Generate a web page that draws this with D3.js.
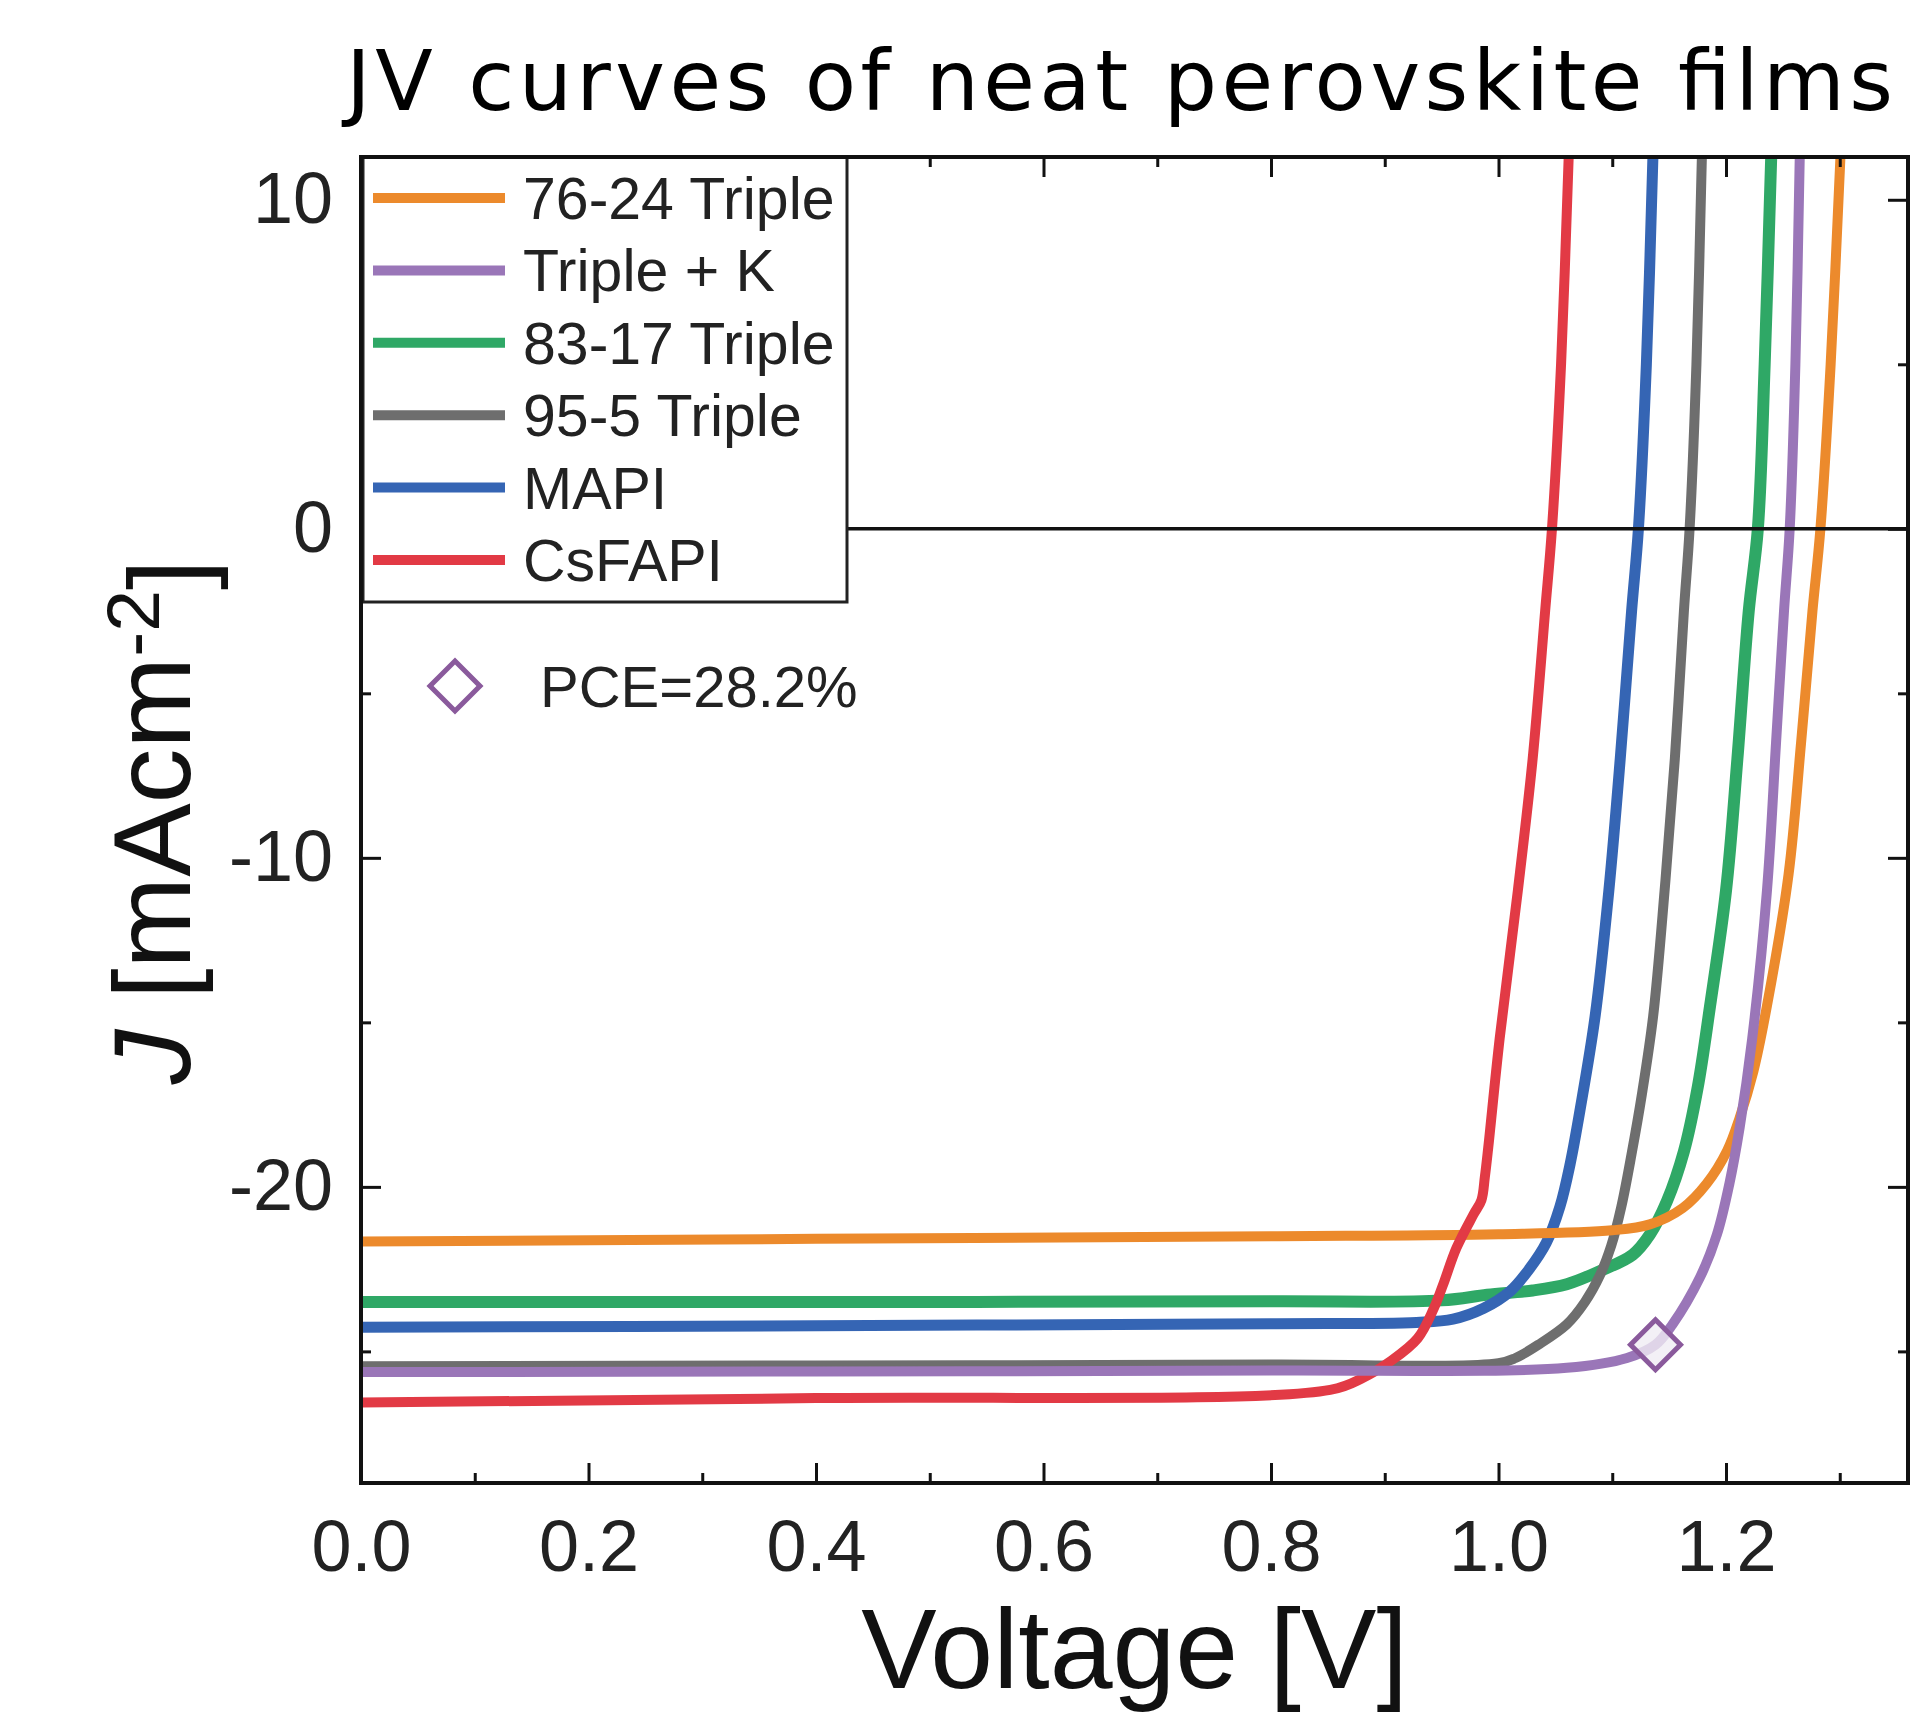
<!DOCTYPE html>
<html>
<head>
<meta charset="utf-8">
<script src="https://cdn.jsdelivr.net/npm/d3@7"></script>
<style>
  body { margin: 0; background: #fff; }
  svg { display: block; }
</style>
</head>
<body>
<svg id="chart" width="1918" height="1713"></svg>
<script>
// ---- data (V in volts, J in mA/cm^2) ----
const seriesNames = ["76-24 Triple", "Triple + K", "83-17 Triple", "95-5 Triple", "MAPI", "CsFAPI"];

const jv7624 = [[0,-21.66],[0.4,-21.58],[0.8,-21.5],[1.0,-21.44],[1.1,-21.32],[1.133,-21.14],[1.162,-20.64],[1.183,-19.9],[1.201,-18.9],[1.212,-17.9],[1.224,-16.5],[1.236,-14.5],[1.255,-10.5],[1.266,-6.5],[1.276,-2.5],[1.283,0],[1.292,5],[1.301,11.6]];
const jvTripleK = [[0,-25.63],[0.4,-25.61],[0.8,-25.58],[1.06,-25.5],[1.113,-25.2],[1.138,-24.8],[1.153,-24.18],[1.177,-22.76],[1.192,-21.45],[1.203,-19.9],[1.212,-18.2],[1.223,-15.5],[1.236,-11.0],[1.244,-6.5],[1.251,-2.5],[1.256,0],[1.261,5],[1.265,11.6]];
const jv8317 = [[0,-23.5],[0.4,-23.5],[0.8,-23.48],[0.95,-23.45],[0.99,-23.28],[1.03,-23.15],[1.06,-22.96],[1.089,-22.56],[1.118,-22.06],[1.133,-21.45],[1.148,-20.44],[1.163,-18.92],[1.175,-17.0],[1.186,-14.5],[1.2,-11.0],[1.21,-7.0],[1.22,-2.5],[1.228,0],[1.234,5],[1.24,11.6]];
const jv955 = [[0,-25.45],[0.4,-25.43],[0.8,-25.4],[1.0,-25.36],[1.015,-25.2],[1.035,-24.8],[1.06,-24.18],[1.076,-23.5],[1.089,-22.7],[1.099,-21.8],[1.108,-20.6],[1.117,-19.0],[1.126,-17.2],[1.136,-14.8],[1.146,-11.0],[1.155,-7.0],[1.163,-2.5],[1.168,0],[1.174,5],[1.179,11.6]];
const jvMAPI = [[0,-24.27],[0.4,-24.22],[0.8,-24.16],[0.928,-24.12],[0.96,-24.02],[0.987,-23.69],[1.01,-23.18],[1.027,-22.5],[1.042,-21.7],[1.054,-20.6],[1.063,-19.3],[1.072,-17.6],[1.085,-14.8],[1.097,-11.0],[1.107,-7.0],[1.117,-2.5],[1.123,0],[1.13,5],[1.136,11.6]];
const jvCsFAPI = [[0,-26.55],[0.4,-26.42],[0.852,-26.17],[0.881,-25.8],[0.905,-25.3],[0.929,-24.6],[0.943,-23.7],[0.951,-23.0],[0.963,-21.86],[0.978,-20.84],[0.985,-20.4],[0.988,-19.7],[0.991,-18.8],[1.001,-15.5],[1.017,-11.0],[1.03,-7.0],[1.041,-2.5],[1.047,0],[1.055,5],[1.062,11.6]];

const seriesData = [jv7624, jvTripleK, jv8317, jv955, jvMAPI, jvCsFAPI];
const pcePoint = [1.138, -24.8];
const pceLabel = "PCE=28.2%";

const xMajorTicks = [0, 0.2, 0.4, 0.6, 0.8, 1.0, 1.2];
const xMinorTicks = [0.1, 0.3, 0.5, 0.7, 0.9, 1.1, 1.3];
const yMajorTicks = [10, 0, -10, -20];
const yMinorTicks = [5, -5, -15, -25];

const titleText = "JV curves of neat perovskite films";

// styles
const colors = ["#ec8a2c", "#9a76b8", "#2fa866", "#6e6e6e", "#3565b4", "#e23a45"];
const widths = [10, 10, 12, 10, 11, 10];
const drawOrder = [2, 3, 4, 0, 5, 1];

const svg = d3.select("#chart");
const L = 361, R = 1908, T = 157, B = 1483;

const x = d3.scaleLinear().domain([0, 1.36]).range([L, R]);
const y = d3.scaleLinear().domain([-29, 11.3]).range([B, T]);

// title
svg.append("text")
  .attr("x", 346).attr("y", 110)
  .attr("textLength", 1547).attr("lengthAdjust", "spacing")
  .style("font-family", "'DejaVu Sans', sans-serif")
  .style("font-size", "84px")
  .attr("fill", "#000")
  .text(titleText);

svg.append("clipPath").attr("id", "plotclip")
  .append("rect").attr("x", L).attr("y", T).attr("width", R - L).attr("height", B - T);

// curves
const line = d3.line().x(d => x(d[0])).y(d => y(d[1])).curve(d3.curveCatmullRom.alpha(0.5));
const curves = svg.append("g").attr("clip-path", "url(#plotclip)");
drawOrder.forEach(i => {
  curves.append("path")
    .attr("d", line(seriesData[i]))
    .attr("fill", "none")
    .attr("stroke", colors[i])
    .attr("stroke-width", widths[i])
    .attr("stroke-linejoin", "round");
});

// zero line
svg.append("line")
  .attr("x1", x(0)).attr("x2", R)
  .attr("y1", y(0)).attr("y2", y(0))
  .attr("stroke", "#111").attr("stroke-width", 3.5);

// PCE marker on curve
const diamond = d3.symbol().type(d3.symbolSquare).size(1250);
svg.append("path")
  .attr("d", diamond())
  .attr("transform", `translate(${x(pcePoint[0])},${y(pcePoint[1])}) rotate(45)`)
  .attr("fill", "rgba(240,236,244,0.8)")
  .attr("stroke", "#8a5a9c").attr("stroke-width", 5);

// axes
const fontAx = "'Liberation Sans', Arial, sans-serif";
function styleAxis(g) {
  g.select(".domain").remove();
  g.selectAll(".tick line").attr("stroke", "#111").attr("stroke-width", 3);
  g.selectAll(".tick text").attr("fill", "#222").style("font-family", fontAx).style("font-size", "72px");
}
svg.append("g").attr("transform", `translate(0,${B})`)
  .call(d3.axisBottom(x).tickValues(xMajorTicks).tickSize(-20).tickPadding(37).tickFormat(d3.format(".1f")))
  .call(styleAxis);
svg.append("g").attr("transform", `translate(0,${B})`)
  .call(d3.axisBottom(x).tickValues(xMinorTicks).tickSize(-10).tickFormat(""))
  .call(styleAxis);
svg.append("g").attr("transform", `translate(0,${T})`)
  .call(d3.axisTop(x).tickValues(xMajorTicks).tickSize(-20).tickFormat(""))
  .call(styleAxis);
svg.append("g").attr("transform", `translate(0,${T})`)
  .call(d3.axisTop(x).tickValues(xMinorTicks).tickSize(-10).tickFormat(""))
  .call(styleAxis);
svg.append("g").attr("transform", `translate(${L},0)`)
  .call(d3.axisLeft(y).tickValues(yMajorTicks).tickSize(-20).tickPadding(28).tickFormat(d => String(d)))
  .call(styleAxis);
svg.append("g").attr("transform", `translate(${L},0)`)
  .call(d3.axisLeft(y).tickValues(yMinorTicks).tickSize(-10).tickFormat(""))
  .call(styleAxis);
svg.append("g").attr("transform", `translate(${R},0)`)
  .call(d3.axisRight(y).tickValues(yMajorTicks).tickSize(-20).tickFormat(""))
  .call(styleAxis);
svg.append("g").attr("transform", `translate(${R},0)`)
  .call(d3.axisRight(y).tickValues(yMinorTicks).tickSize(-10).tickFormat(""))
  .call(styleAxis);

// legend
const leg = svg.append("g");
leg.append("rect")
  .attr("x", 363).attr("y", T).attr("width", 484).attr("height", 445)
  .attr("fill", "#fff").attr("stroke", "#222").attr("stroke-width", 3);
seriesNames.forEach((name, i) => {
  const cy = 198 + i * 72.4;
  leg.append("line")
    .attr("x1", 373).attr("x2", 505).attr("y1", cy).attr("y2", cy)
    .attr("stroke", colors[i]).attr("stroke-width", 10);
  leg.append("text")
    .attr("x", 523).attr("y", cy + 21)
    .attr("fill", "#222")
    .style("font-family", fontAx).style("font-size", "59px")
    .text(name);
});

// frame
svg.append("rect")
  .attr("x", L).attr("y", T).attr("width", R - L).attr("height", B - T)
  .attr("fill", "none").attr("stroke", "#111").attr("stroke-width", 4);

// PCE annotation
svg.append("path")
  .attr("d", diamond())
  .attr("transform", `translate(455,686) rotate(45)`)
  .attr("fill", "#fff").attr("stroke", "#8a5a9c").attr("stroke-width", 5);
svg.append("text")
  .attr("x", 540).attr("y", 707)
  .attr("fill", "#222")
  .style("font-family", fontAx).style("font-size", "58px")
  .text(pceLabel);

// axis titles
svg.append("text")
  .attr("x", (L + R) / 2).attr("y", 1688)
  .attr("text-anchor", "middle")
  .attr("fill", "#111")
  .style("font-family", fontAx).style("font-size", "113px")
  .text("Voltage [V]");

const yt = svg.append("text")
  .attr("transform", `translate(190,822) rotate(-90)`)
  .attr("text-anchor", "middle")
  .attr("fill", "#111")
  .style("font-family", fontAx).style("font-size", "110px");
yt.append("tspan").style("font-style", "italic").text("J");
yt.append("tspan").text(" [mAcm");
yt.append("tspan").attr("dy", "-0.42em").style("font-size", "75px").text("-2");
yt.append("tspan").attr("dy", "0.42em").text("]");
</script>
</body>
</html>
